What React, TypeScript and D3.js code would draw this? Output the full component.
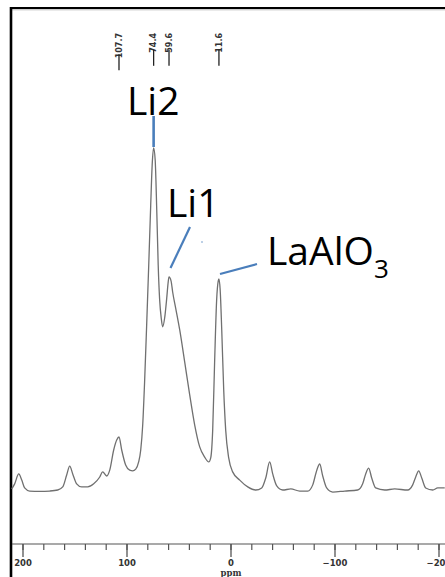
import React from "react";
import * as d3 from "d3";

const spectrumPpm = [
  210.9, 208.0, 204.1, 201.2, 198.4, 193.6, 184.0, 174.3, 166.6, 161.8, 158.0, 155.1, 152.2, 148.4,
  143.6, 137.8, 132.0, 126.2, 123.4, 119.5, 116.6, 112.8, 109.9, 107.7, 105.1, 101.3, 97.4, 94.5,
  91.6, 88.8, 86.8, 84.9, 83.0, 81.1, 79.1, 77.2, 75.8, 74.4, 72.9, 71.4, 70.0, 68.6, 67.1, 65.7,
  63.8, 61.8, 60.4, 59.6, 57.6, 56.1, 53.2, 49.3, 44.5, 39.7, 34.9, 30.1, 25.3, 21.4, 19.5, 17.6,
  15.7, 13.8, 12.3, 11.6, 10.4, 8.9, 7.0, 5.1, 2.2, -1.6, -8.4, -16.1, -23.8, -29.5, -33.4, -37.2,
  -40.1, -44.0, -49.8, -57.5, -66.1, -73.8, -78.6, -82.5, -85.3, -88.2, -92.0, -97.8, -109.3,
  -121.8, -126.6, -129.5, -132.4, -135.3, -139.1, -147.8, -157.4, -169.9, -174.7, -177.6, -180.5,
  -183.4, -187.2, -194.0, -198.8, -205.5,
];
const spectrumIntensity = [
  0.3, 1.8, 4.7, 2.9, 0.6, -0.3, -0.4, -0.3, 0, 0.9, 4.4, 7.0, 4.7, 1.8,
  0.9, 0.9, 1.8, 3.8, 5.3, 4.1, 5.8, 11.7, 14.6, 15.5, 11.7, 7.3, 5.8, 5.6,
  6.1, 8.2, 11.7, 19.0, 32.2, 48.2, 65.8, 83.3, 95.0, 100, 96.5, 81.9, 65.8, 55.6, 50.3, 47.7,
  50.3, 56.1, 60.8, 62.3, 61.1, 57.9, 53.2, 46.8, 37.4, 27.8, 19.0, 12.6, 9.6, 8.2, 9.4, 17.5,
  38.0, 55.6, 61.1, 61.7, 58.5, 46.8, 29.2, 17.5, 9.4, 5.3, 2.9, 0.9, 0, 0.6, 3.5, 8.2,
  4.7, 1.2, 0, 0.3, -0.3, -0.3, 1.5, 5.8, 7.6, 4.1, 0.6, -0.6, -0.3,
  0, 1.8, 4.7, 6.4, 3.5, 0.6, 0, 0.3, 0, 1.5, 3.8, 5.6,
  3.5, 0.6, 0, 0.6, 0.6,
];

const peakLabels = ["107.7", "74.4", "59.6", "11.6"];
const peakPositions = [107.7, 74.4, 59.6, 11.6];

const majorTicks = [200, 100, 0, -100, -200];
const majorTickLabels = ["200", "100", "0", "\u2212100", "\u2212200"];
const minorTicks = d3.range(200, -221, -20);

const annotationLabels = ["Li2", "Li1", "LaAlO"];

export default function App() {
  const W = 445;
  const H = 577;
  const x = d3.scaleLinear().domain([200, -200]).range([23, 439]);
  const y = d3.scaleLinear().domain([0, 100]).range([490, 148]);

  const pts: [number, number][] = spectrumPpm.map((p, i) => [p, spectrumIntensity[i]]);
  const line = d3
    .line<[number, number]>()
    .x((d) => x(d[0]))
    .y((d) => y(d[1]))
    .curve(d3.curveMonotoneX);

  const axisY = 544;
  const labelTop = 33;
  const charW = (s: string) =>
    s.split("").reduce((a, c) => a + (c === "." ? 2.3 : 4.5), 0);

  const blue = "#4a7ebb";
  const font = "'Open Sans', 'Noto Sans', sans-serif";

  return (
    <svg
      width={W}
      height={H}
      style={{ position: "absolute", left: 0, top: 0, background: "#fff" }}
    >
      <rect x={0} y={0} width={W} height={H} fill="#fff" />
      {/* frame */}
      <line x1={11} y1={8} x2={W} y2={8} stroke="#000" strokeWidth={2.2} />
      <line x1={11} y1={9.8} x2={W} y2={9.8} stroke="#aaa" strokeWidth={0.8} />
      <line x1={11} y1={7} x2={11} y2={H} stroke="#000" strokeWidth={2.6} />

      {/* peak position labels */}
      {peakPositions.map((p, i) => {
        const px = x(p);
        const len = charW(peakLabels[i]);
        return (
          <g key={i}>
            <text
              transform={`translate(${px + 2.8},${labelTop}) rotate(-90)`}
              textAnchor="end"
              fontFamily="'DejaVu Sans', sans-serif"
              fontSize={8}
              fontWeight="bold"
              fill="#333"
            >
              {peakLabels[i]}
            </text>
            <line
              x1={px}
              x2={px}
              y1={labelTop + len + 1}
              y2={labelTop + len + 17}
              stroke="#222"
              strokeWidth={1.3}
            />
          </g>
        );
      })}

      {/* spectrum */}
      <path d={line(pts) || ""} fill="none" stroke="#707070" strokeWidth={1.3} />

      {/* axis */}
      <line x1={12} x2={W} y1={axisY} y2={axisY} stroke="#555" strokeWidth={1.2} />
      {minorTicks.map((t) => (
        <line
          key={"m" + t}
          x1={x(t)}
          x2={x(t)}
          y1={axisY}
          y2={axisY + 6}
          stroke="#555"
          strokeWidth={1.2}
        />
      ))}
      {majorTicks.map((t, i) => (
        <g key={"M" + t}>
          <line
            x1={x(t)}
            x2={x(t)}
            y1={axisY}
            y2={axisY + 13}
            stroke="#555"
            strokeWidth={1.3}
          />
          <text
            x={x(t)}
            y={566}
            textAnchor="middle"
            fontFamily="'DejaVu Sans', sans-serif"
            fontSize={8.5}
            fontWeight="bold"
            fill="#333"
          >
            {majorTickLabels[i]}
          </text>
        </g>
      ))}
      <text
        x={x(0)}
        y={575.5}
        textAnchor="middle"
        fontFamily="'DejaVu Serif', serif"
        fontSize={8.5}
        fontWeight="bold"
        fill="#333"
      >
        ppm
      </text>

      {/* annotations */}
      <line x1={x(74.4)} x2={x(74.4)} y1={116} y2={147} stroke={blue} strokeWidth={2.6} />
      <line x1={190} y1={227} x2={170.5} y2={268} stroke={blue} strokeWidth={2.2} />
      <line x1={257} y1={264} x2={220} y2={274} stroke={blue} strokeWidth={2.2} />
      <circle cx={202} cy={242} r={0.7} fill={blue} />

      <text x={127} y={115} fontFamily={font} fontSize={39} fill="#000">
        {annotationLabels[0]}
      </text>
      <text x={167} y={217} fontFamily={font} fontSize={39} fill="#000">
        {annotationLabels[1]}
      </text>
      <text x={267} y={265} fontFamily={font} fontSize={39} fill="#000">
        {annotationLabels[2]}
        <tspan fontSize={26} dy={13}>
          3
        </tspan>
      </text>
    </svg>
  );
}
